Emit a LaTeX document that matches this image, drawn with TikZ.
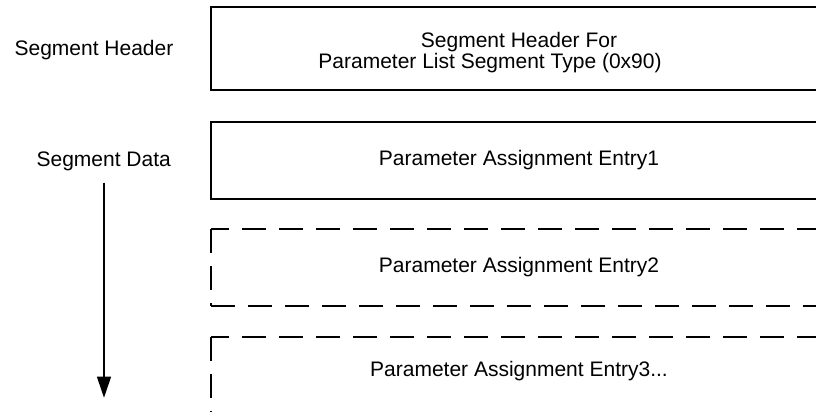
\documentclass[tikz,border=0pt]{standalone}
\usepackage{fontspec}
\setmainfont{Liberation Sans}
\usetikzlibrary{arrows.meta}
\tikzset{
  seglabel/.style={font=\fontsize{21}{21}\selectfont,inner sep=0pt},
  entrybox/.style={minimum width=616pt,inner sep=0pt,outer sep=0pt,font=\fontsize{21}{21}\selectfont},
  solidbox/.style={entrybox,draw,line width=1.8pt},
  dashedge/.style={line width=1.8pt,dash pattern=on 24pt off 13pt},
  flowarrow/.style={line width=1.2pt,-{Triangle[width=14pt,length=21pt]}}
}

\begin{document}
\begin{tikzpicture}[x=1pt,y=-1pt,line join=miter]
  \useasboundingbox (0,0) rectangle (816,412);
  \clip (0,0) rectangle (816,412);
  \node[solidbox,minimum height=83.3pt] (hdr) at (519,48.35) {};
  \node[solidbox,minimum height=77pt] (entryA) at (519,160.5) {Parameter Assignment Entry1};
  \node[entrybox,minimum height=76.7pt] (entryB) at (519,267.35) {Parameter Assignment Entry2};
  \node[entrybox,minimum height=76.7pt] (entryC) at (519,375) {};
  \node[seglabel] (entryCtxt) at ([yshift=4pt]entryC.center) {Parameter Assignment Entry3...};
  % open dashed frames, cut off at the right
  \foreach \b in {entryB,entryC}{
    \draw[dashedge,dash phase=6pt] (\b.north west) -- (\b.north east);
    \draw[dashedge] (\b.north west) -- (\b.south west);
    \draw[dashedge] (\b.south west) -- (\b.south east);
  }
  \node[seglabel,anchor=base] (hdrtop) at (519,47.7) {Segment Header For};
  \node[seglabel,anchor=base] (hdrbot) at (490,68.3) {Parameter List Segment Type (0x90)};
  \node[seglabel,anchor=base] (hdrlbl) at (94,56) {Segment Header};
  \node[seglabel,anchor=base] (datalbl) at (103.7,166.7) {Segment Data};
  \coordinate (flowtop) at (104,182.7);
  \coordinate (flowend) at (104,397.7);
  \draw[flowarrow] (flowtop) -- (flowend);
\end{tikzpicture}
\end{document}
